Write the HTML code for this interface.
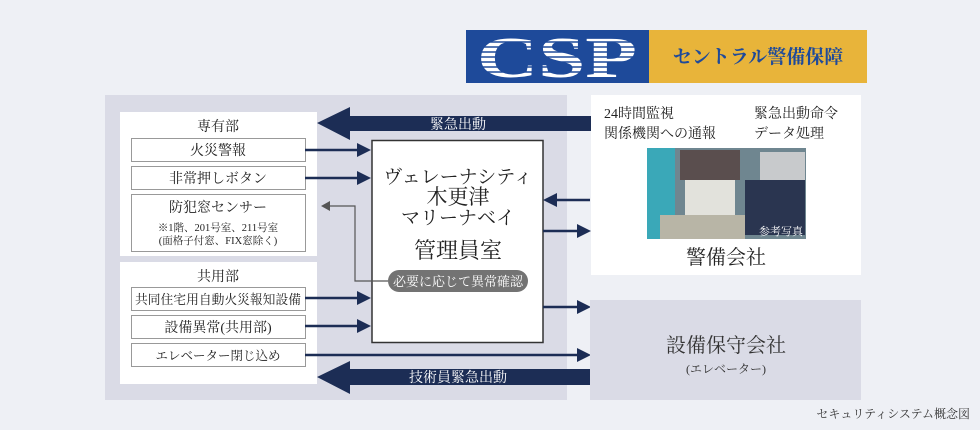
<!DOCTYPE html>
<html><head><meta charset="utf-8"><style>
html,body{margin:0;padding:0;background:#eef0f5;}
svg{display:block;}
text{font-family:"Liberation Serif","Noto Serif CJK SC","Noto Sans CJK JP",serif;}
</style></head><body>
<svg width="980" height="430" viewBox="0 0 980 430" xmlns="http://www.w3.org/2000/svg">
<rect x="0" y="0" width="980" height="430" fill="#eef0f5"/>
<!-- logo -->
<rect x="466" y="30" width="183" height="53" fill="#1e4a9a"/>
<rect x="649" y="30" width="218" height="53" fill="#e8b43a"/>
<text x="557" y="77" font-family="Liberation Sans,sans-serif" font-size="58" font-weight="bold" fill="#fff" text-anchor="middle" textLength="160" lengthAdjust="spacingAndGlyphs">CSP</text>
<g stroke="#1e4a9a" stroke-width="1.6">
<line x1="470" y1="42" x2="645" y2="42"/><line x1="470" y1="47" x2="645" y2="47"/><line x1="470" y1="52" x2="645" y2="52"/><line x1="470" y1="57" x2="645" y2="57"/><line x1="470" y1="62" x2="645" y2="62"/><line x1="470" y1="67" x2="645" y2="67"/><line x1="470" y1="72" x2="645" y2="72"/>
</g>
<text x="758" y="63" font-family="Liberation Sans,'Noto Sans CJK JP',sans-serif" font-size="19" font-weight="bold" fill="#1e4a9a" text-anchor="middle">セントラル警備保障</text>

<!-- main panel -->
<rect x="105" y="95" width="462" height="305" fill="#dadbe6"/>
<rect x="120" y="112" width="197" height="144" fill="#fff"/>
<rect x="120" y="262" width="197" height="122" fill="#fff"/>
<text x="218" y="131" font-size="14" text-anchor="middle" fill="#222">専有部</text>
<text x="218" y="281" font-size="14" text-anchor="middle" fill="#222">共用部</text>
<g fill="#fff" stroke="#999" stroke-width="1">
<rect x="131.5" y="138.5" width="174" height="23"/>
<rect x="131.5" y="166.5" width="174" height="23"/>
<rect x="131.5" y="194.5" width="174" height="57"/>
<rect x="131.5" y="287.5" width="174" height="23"/>
<rect x="131.5" y="315.5" width="174" height="23"/>
<rect x="131.5" y="343.5" width="174" height="23"/>
</g>
<g font-size="14" text-anchor="middle" fill="#222">
<text x="218" y="155">火災警報</text>
<text x="218" y="183">非常押しボタン</text>
<text x="218" y="212">防犯窓センサー</text>
<text x="218" y="231" font-size="10.5">※1階、201号室、211号室</text>
<text x="218" y="244" font-size="10.5">(面格子付窓、FIX窓除く)</text>
<text x="218" y="304" font-size="13" textLength="166" lengthAdjust="spacingAndGlyphs">共同住宅用自動火災報知設備</text>
<text x="218" y="332">設備異常(共用部)</text>
<text x="218" y="360" font-size="12.5">エレベーター閉じ込め</text>
</g>

<!-- center box -->
<rect x="372" y="140.5" width="171" height="202" fill="#fff" stroke="#333" stroke-width="1.5"/>
<g text-anchor="middle" fill="#222">
<text x="458" y="183" font-size="19">ヴェレーナシティ</text>
<text x="458" y="204" font-size="21">木更津</text>
<text x="458" y="224" font-size="19">マリーナベイ</text>
<text x="458" y="258" font-size="22">管理員室</text>
</g>
<rect x="388" y="270" width="140" height="22" rx="11" fill="#737373"/>
<text x="458" y="286" font-size="13" text-anchor="middle" fill="#fff">必要に応じて異常確認</text>
<!-- gray arrow -->
<polyline points="388,281 355,281 355,206 328,206" fill="none" stroke="#555" stroke-width="1.2"/>
<polygon points="321,206 330,201 330,211" fill="#555"/>

<!-- item arrows -->
<g stroke="#1c2d55" stroke-width="2.5">
<line x1="305" y1="150" x2="360" y2="150"/><line x1="305" y1="178" x2="360" y2="178"/>
<line x1="305" y1="298" x2="360" y2="298"/><line x1="305" y1="326" x2="360" y2="326"/>
<line x1="305" y1="355" x2="580" y2="355"/>
<line x1="590" y1="200" x2="555" y2="200"/>
<line x1="543" y1="231" x2="580" y2="231"/>
<line x1="543" y1="307" x2="580" y2="307"/>
</g>
<g fill="#1c2d55">
<polygon points="371,150 357,143 357,157"/><polygon points="371,178 357,171 357,185"/>
<polygon points="371,298 357,291 357,305"/><polygon points="371,326 357,319 357,333"/>
<polygon points="591,355 577,348 577,362"/>
<polygon points="543,200 557,193 557,207"/>
<polygon points="591,231 577,224 577,238"/>
<polygon points="591,307 577,300 577,314"/>
<!-- big arrows -->
<polygon points="317,123 350,107 350,116 592,116 592,131 350,131 350,140"/>
<polygon points="317,377 350,361 350,369 592,369 592,385 350,385 350,394"/>
</g>
<text x="458" y="129" font-size="14" text-anchor="middle" fill="#fff">緊急出動</text>
<text x="458" y="382" font-size="14" text-anchor="middle" fill="#fff">技術員緊急出動</text>

<!-- right panels -->
<rect x="591" y="95" width="270" height="180" fill="#fff"/>
<g font-size="14" fill="#222">
<text x="604" y="118">24時間監視</text>
<text x="604" y="138">関係機関への通報</text>
<text x="754" y="118">緊急出動命令</text>
<text x="754" y="138">データ処理</text>
</g>
<rect x="647" y="148" width="159" height="91" fill="#6f8690"/>
<rect x="647" y="148" width="28" height="91" fill="#3aa8b8"/>
<rect x="680" y="150" width="60" height="30" fill="#5a4e4e"/>
<rect x="760" y="152" width="45" height="60" fill="#c8cacc"/>
<rect x="685" y="180" width="50" height="40" fill="#e2e2dc"/>
<rect x="745" y="180" width="60" height="55" fill="#2a3550"/>
<rect x="660" y="215" width="85" height="24" fill="#b8b5a6"/>
<text x="803" y="235" font-size="11" text-anchor="end" fill="#fff">参考写真</text>
<text x="726" y="264" font-size="20" text-anchor="middle" fill="#222">警備会社</text>

<rect x="590" y="300" width="271" height="100" fill="#dadbe6"/>
<text x="726" y="352" font-size="20" text-anchor="middle" fill="#333">設備保守会社</text>
<text x="726" y="373" font-size="12" text-anchor="middle" fill="#333">(エレベーター)</text>

<text x="970" y="418" font-size="12" text-anchor="end" fill="#333">セキュリティシステム概念図</text>
</svg>
</body></html>
